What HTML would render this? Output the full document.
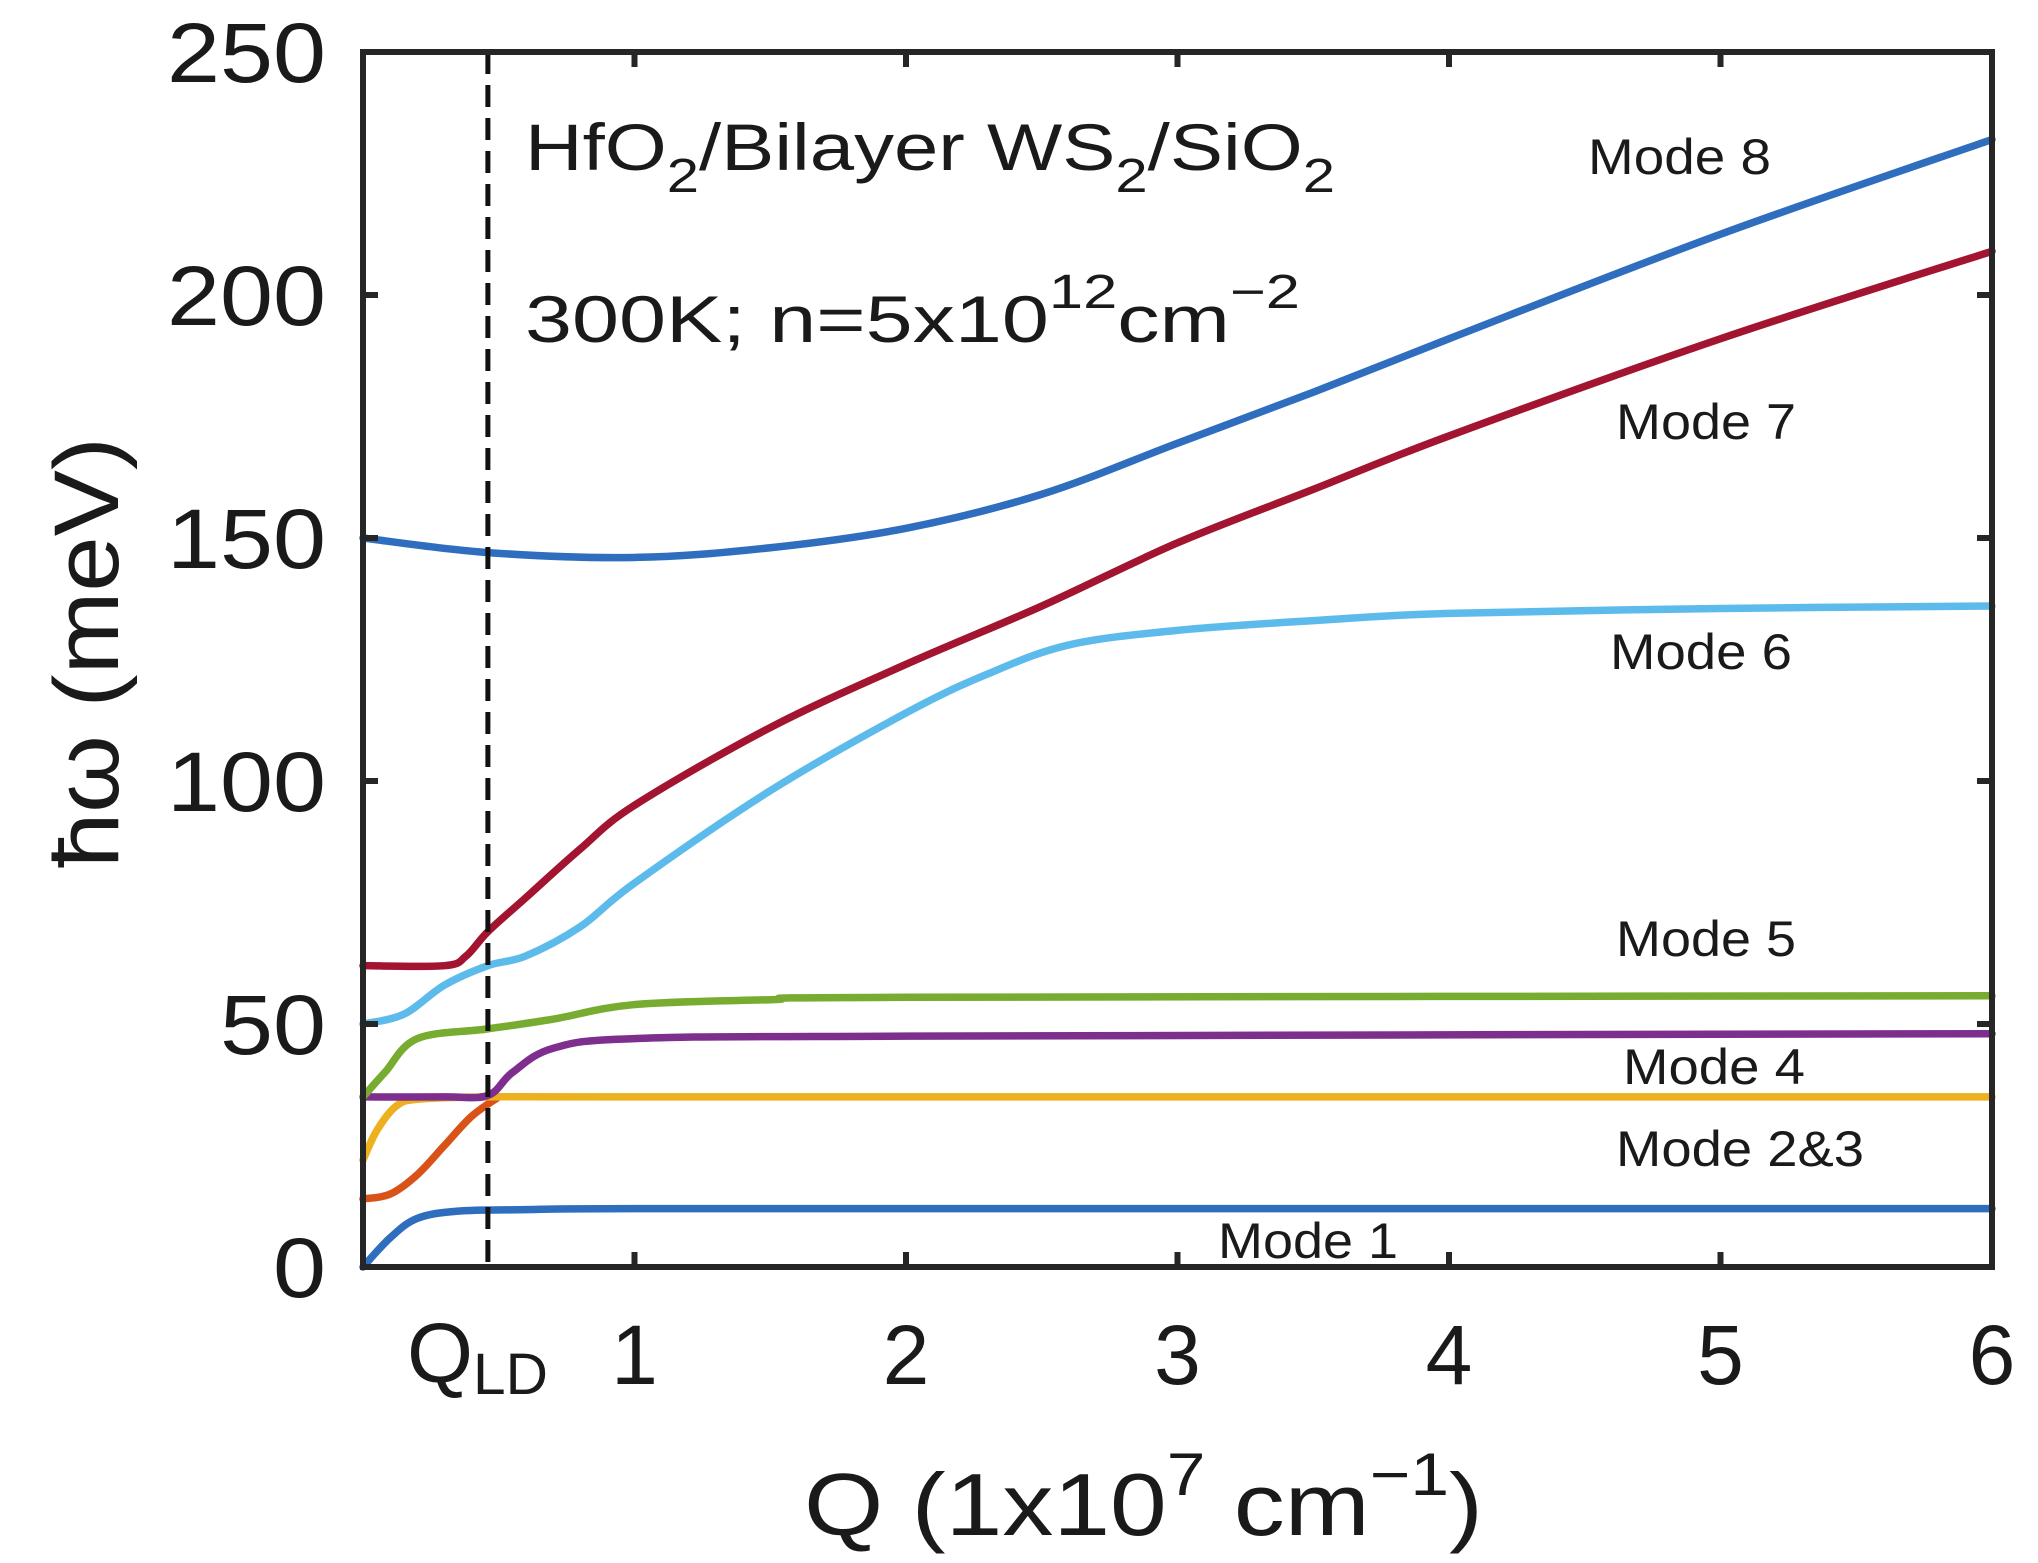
<!DOCTYPE html>
<html><head><meta charset="utf-8"><style>
html,body{margin:0;padding:0;background:#fff;}
svg{display:block;font-family:"Liberation Sans",sans-serif;}
</style></head><body>
<svg id="chart" width="2038" height="1563" viewBox="0 0 2038 1563" xmlns="http://www.w3.org/2000/svg">
<g id="plot"></g>
<g id="frame"></g>
<g fill="#1a1a1a">
 <text x="525" y="170" font-size="66" textLength="810" lengthAdjust="spacingAndGlyphs">HfO<tspan font-size="48" dy="22">2</tspan><tspan dy="-22">/Bilayer WS</tspan><tspan font-size="48" dy="22">2</tspan><tspan dy="-22">/SiO</tspan><tspan font-size="48" dy="22">2</tspan></text>
 <text x="525" y="342" font-size="66" textLength="775" lengthAdjust="spacingAndGlyphs">300K; n=5x10<tspan font-size="48" dy="-34">12</tspan><tspan dy="34">cm</tspan><tspan font-size="48" dy="-34">−2</tspan></text>
 <text x="1588" y="174" font-size="50" textLength="183" lengthAdjust="spacingAndGlyphs">Mode 8</text>
 <text x="1616" y="439" font-size="50" textLength="180" lengthAdjust="spacingAndGlyphs">Mode 7</text>
 <text x="1610" y="669" font-size="50" textLength="182" lengthAdjust="spacingAndGlyphs">Mode 6</text>
 <text x="1616" y="956" font-size="50" textLength="180" lengthAdjust="spacingAndGlyphs">Mode 5</text>
 <text x="1623" y="1084" font-size="50" textLength="182" lengthAdjust="spacingAndGlyphs">Mode 4</text>
 <text x="1616" y="1166" font-size="50" textLength="248" lengthAdjust="spacingAndGlyphs">Mode 2&amp;3</text>
 <text x="1218" y="1258" font-size="50" textLength="180" lengthAdjust="spacingAndGlyphs">Mode 1</text>
 <text x="804" y="1535" font-size="88" textLength="679" lengthAdjust="spacingAndGlyphs">Q (1x10<tspan font-size="60" dy="-40">7</tspan><tspan dy="40"> cm</tspan><tspan font-size="60" dy="-40">−1</tspan><tspan dy="40">)</tspan></text>
 <text transform="translate(118,868) rotate(-90)" font-size="92" textLength="431" lengthAdjust="spacingAndGlyphs">ħω (meV)</text>
 <text x="407" y="1382" font-size="84" textLength="141" lengthAdjust="spacingAndGlyphs">Q<tspan font-size="58" dy="12">LD</tspan></text>
</g>
</svg>
<script>
const X0=363,X1=1992,Y0=1267,Y1=52,XMAX=6,YMAX=250;
function sx(q){return X0+(X1-X0)*q/XMAX;}
function sy(v){return Y0-(Y0-Y1)*v/YMAX;}
const xTicks=[1,2,3,4,5,6];
const yTicks=[0,50,100,150,200,250];
const qLD=0.46;
const mode1Q=[0,0.1,0.2,0.35,0.6,1,3,6];
const mode1V=[0,6,10,11.5,11.8,12,12,12];
const mode23Q=[0,0.05,0.12,0.2,0.46,1,6];
const mode23V=[22,28,33,34.5,35,35,35];
const orangeQ=[0,0.1,0.2,0.3,0.4,0.5];
const orangeV=[14,15,19,25,31,35];
const mode4Q=[0,0.3,0.46,0.55,0.7,1,2,6];
const mode4V=[35,35,35.3,40,45,47,47.5,48];
const mode5Q=[0,0.08,0.2,0.46,0.7,1,1.5,2,6];
const mode5V=[35,40,47,49,51,54,55,55.5,55.8];
const mode6Q=[0,0.15,0.3,0.46,0.6,0.8,1,1.5,2,2.3,2.6,3,3.5,4,5,6];
const mode6V=[50,52,58,62,64,70,79,98,114,122,128,131,133,134.5,135.5,136];
const mode7Q=[0,0.3,0.38,0.46,0.6,0.8,1,1.5,2,2.5,3,3.5,4,5,6];
const mode7V=[62,62,64,69,76,86,95,111,124,136,149,160,171,191,209];
const mode8Q=[0,0.46,1,1.5,2,2.5,3,3.5,4,5,6];
const mode8V=[150,147,146,148,152,159,169.5,180,191,212.5,232];
const NS="http://www.w3.org/2000/svg";
function path(qs,vs){
 const p=qs.map((q,i)=>[sx(q),sy(vs[i])]);
 let d="M"+p[0][0]+","+p[0][1];
 for(let i=0;i<p.length-1;i++){
  const a=p[Math.max(0,i-1)],b=p[i],c=p[i+1],e=p[Math.min(p.length-1,i+2)];
  const c1=[b[0]+(c[0]-a[0])/6,b[1]+(c[1]-a[1])/6];
  const c2=[c[0]-(e[0]-b[0])/6,c[1]-(e[1]-b[1])/6];
  d+=" C"+c1[0]+","+c1[1]+" "+c2[0]+","+c2[1]+" "+c[0]+","+c[1];
 }
 return d;
}
const plot=document.getElementById("plot");
function addLine(qs,vs,color,name){
 const el=document.createElementNS(NS,"path");
 el.setAttribute("d",path(qs,vs));
 el.setAttribute("fill","none");
 el.setAttribute("stroke",color);
 el.setAttribute("stroke-width","7.5");
 el.setAttribute("stroke-linecap","round");
 
 
 plot.appendChild(el);
}
addLine(orangeQ,orangeV,"#D95319","mode-3-line");
addLine(mode23Q,mode23V,"#EDB120","mode-2-line");
addLine(mode4Q,mode4V,"#7E2F8E","mode-4-line");
addLine(mode5Q,mode5V,"#77AC30","mode-5-line");
addLine(mode6Q,mode6V,"#5DBBEC","mode-6-line");
addLine(mode7Q,mode7V,"#A2142F","mode-7-line");
addLine(mode8Q,mode8V,"#2F6EBF","mode-8-line");
addLine(mode1Q,mode1V,"#2F6EBF","mode-1-line");
const dash=document.createElementNS(NS,"line");
dash.setAttribute("x1",sx(qLD));dash.setAttribute("x2",sx(qLD));
dash.setAttribute("y1",Y1);dash.setAttribute("y2",Y0);
dash.setAttribute("stroke","#111");dash.setAttribute("stroke-width","5");
dash.setAttribute("stroke-dasharray","22 11");


plot.appendChild(dash);
const fr=document.getElementById("frame");
const box=document.createElementNS(NS,"rect");
box.setAttribute("x",X0);box.setAttribute("y",Y1);
box.setAttribute("width",X1-X0);box.setAttribute("height",Y0-Y1);
box.setAttribute("fill","none");box.setAttribute("stroke","#262626");box.setAttribute("stroke-width","6");


fr.appendChild(box);
function tick(x1,y1,x2,y2,name){
 const t=document.createElementNS(NS,"line");
 t.setAttribute("x1",x1);t.setAttribute("y1",y1);t.setAttribute("x2",x2);t.setAttribute("y2",y2);
 t.setAttribute("stroke","#262626");t.setAttribute("stroke-width","6");
 
 
 fr.appendChild(t);
}
xTicks.forEach(q=>{
 const x=sx(q);
 tick(x,Y0,x,Y0-15,"x-tick");
 tick(x,Y1,x,Y1+15,"x-tick-top");
 const t=document.createElementNS(NS,"text");
 t.setAttribute("x",x);t.setAttribute("y",1384);
 t.setAttribute("font-size","84");t.setAttribute("text-anchor","middle");t.setAttribute("fill","#1a1a1a");
 t.textContent=q;
 
 
 fr.appendChild(t);
});
yTicks.forEach(v=>{
 const y=sy(v);
 tick(X0,y,X0+15,y,"y-tick");
 tick(X1,y,X1-15,y,"y-tick-right");
 const t=document.createElementNS(NS,"text");
 const s=String(v);
 t.setAttribute("x",326-53*s.length);t.setAttribute("y",y+30);
 t.setAttribute("font-size","84");t.setAttribute("fill","#1a1a1a");
 t.setAttribute("textLength",53*s.length);t.setAttribute("lengthAdjust","spacingAndGlyphs");
 t.textContent=s;
 
 
 fr.appendChild(t);
});
</script>
</body></html>
